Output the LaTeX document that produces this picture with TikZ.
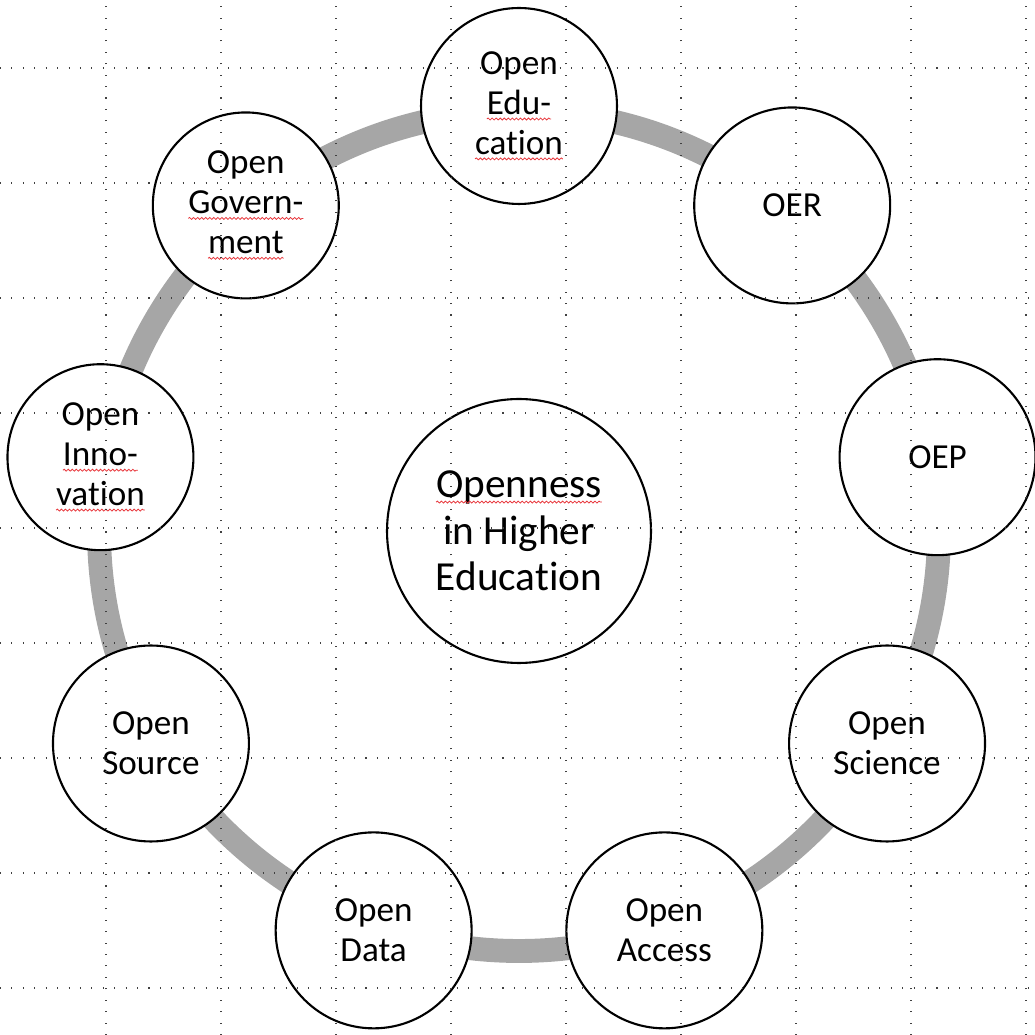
\documentclass[tikz,border=0pt]{standalone}
\usepackage{fontspec}
\setmainfont{Carlito}[Ligatures = CommonOff]
\usepackage{tikz}
\usetikzlibrary{positioning}
\usetikzlibrary{decorations.pathmorphing}
\definecolor{ringgray}{HTML}{A6A6A6}
\definecolor{spellred}{HTML}{E8383D}
\tikzset{topic/.style = {draw, circle, fill = white, line width = 1.2pt, inner sep = 0,
    minimum size = 3.92cm, align = center, font = \fontsize{20}{22.7}\selectfont}}
\tikzset{smalltopic/.style = {topic, minimum size = 3.72cm}}
\tikzset{hubtopic/.style = {topic, minimum size = 5.28cm, font = \fontsize{23.5}{26.6}\selectfont}}
\tikzset{ring/.style = {ringgray, line width = 13.6pt}}
\tikzset{gridline/.style = {black!75, line width = 0.6pt, dash pattern = on 0.6pt off 5.9pt}}
\tikzset{wavy/.style = {spellred, line width = 0.45pt, decorate,
    decoration = {snake, amplitude = 0.55pt, segment length = 2.3pt}}}
% red wavy mark under a word
\newcommand{\spell}[1]{\tikz[baseline = (w.base)]{%
    \node [shape = rectangle, draw = none, fill = none, inner sep = 0, outer sep = 0,
      minimum size = 0] (w) {#1};
    \draw [wavy] ([yshift = -2.6pt] w.base west) -- ([yshift = -2.6pt] w.base east);}}

\begin{document}
\begin{tikzpicture}[x=0.02cm, y=0.02cm]
      \useasboundingbox (0, 0) rectangle (1035, 1035);

      \node [hubtopic] (hub) at (519, 504) {\spell{Openness}\\in Higher\\Education};
      \draw [ring] (hub.center) circle [radius = 420];

      \foreach \ang/\name/\kind/\txt in {
          90/edu/topic/{Open\\\spell{Edu-}\\\spell{cation}},
          50/oer/topic/{OER},
          10/oep/topic/{OEP},
          -30/sci/topic/{Open\\Science},
          -70/acc/topic/{Open\\Access},
          -110/data/topic/{Open\\Data},
          -150/src/topic/{Open\\Source},
          170/inno/smalltopic/{Open\\\spell{Inno-}\\\spell{vation}},
          130/gov/smalltopic/{Open\\\spell{Govern-}\\\spell{ment}}}
        \path (hub.center) ++(\ang:425) node [\kind] (\name) {\txt};

      % gridlines over everything
      \foreach \k in {0, ..., 8} {
        \draw [gridline] (106 + 115*\k, 0) -- (106 + 115*\k, 1035);
        \draw [gridline] (0, 967 - 115*\k) -- (1035, 967 - 115*\k);
      }
    \end{tikzpicture}
\end{document}
